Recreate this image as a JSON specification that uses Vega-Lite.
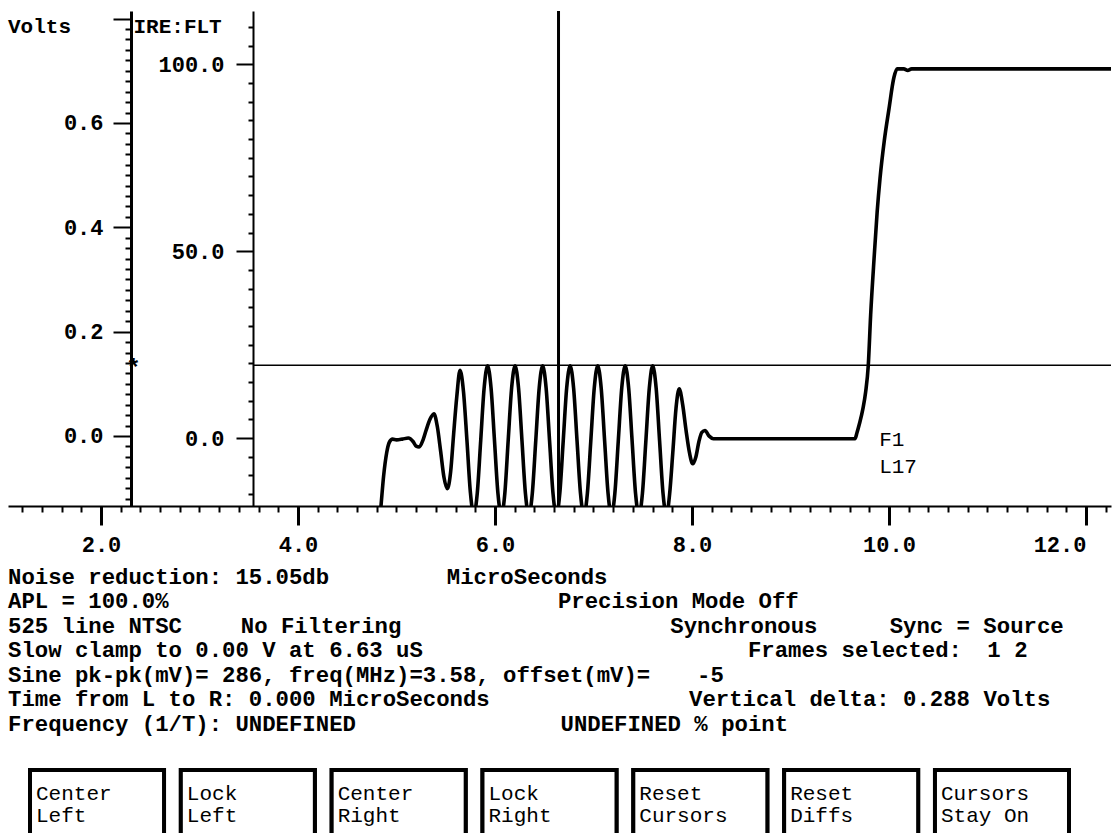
{
  "$schema": "https://vega.github.io/schema/vega-lite/v6.json",
  "background": "white",
  "padding": {"left": 8, "top": 9, "right": 0, "bottom": 0},
  "autosize": {"type": "pad"},
  "bounds": "flush",
  "spacing": 0,
  "config": {
    "view": {"stroke": null},
    "font": "Liberation Mono",
    "text": {"font": "Liberation Mono", "fontSize": 22, "color": "black"},
    "axis": {
      "labelFont": "Liberation Mono",
      "labelFontSize": 22,
      "labelColor": "black",
      "labelFontWeight": "bold",
      "tickColor": "black",
      "domainColor": "black",
      "grid": false,
      "title": null
    }
  },
  "datasets": {
    "wave": [
      {"us": 4.70, "ire": -40}, {"us": 4.76, "ire": -38}, {"us": 4.80, "ire": -30}, {"us": 4.84, "ire": -19},
      {"us": 4.87, "ire": -10}, {"us": 4.90, "ire": -4}, {"us": 4.93, "ire": -1}, {"us": 4.96, "ire": -0.3},
      {"us": 5.00, "ire": -0.5}, {"us": 5.06, "ire": -0.3}, {"us": 5.12, "ire": 0}, {"us": 5.17, "ire": -1},
      {"us": 5.20, "ire": -2.2}, {"us": 5.23, "ire": -2.4}, {"us": 5.27, "ire": -0.5}, {"us": 5.30, "ire": 2.0},
      {"us": 5.34, "ire": 5.0}, {"us": 5.38, "ire": 6.5}, {"us": 5.415, "ire": 3.0}, {"us": 5.448, "ire": -3.5},
      {"us": 5.482, "ire": -10.5}, {"us": 5.516, "ire": -13.6}, {"us": 5.55, "ire": -9}, {"us": 5.58, "ire": 1},
      {"us": 5.612, "ire": 11}, {"us": 5.645, "ire": 18.1}, {"us": 5.680, "ire": 12.5}, {"us": 5.715, "ire": -0.5},
      {"us": 5.750, "ire": -14.5}, {"us": 5.785, "ire": -20.5}, {"us": 5.820, "ire": -14.8}, {"us": 5.855, "ire": -0.7},
      {"us": 5.890, "ire": 13.4}, {"us": 5.925, "ire": 19.3}, {"us": 5.960, "ire": 13.4}, {"us": 5.995, "ire": -0.7},
      {"us": 6.030, "ire": -14.8}, {"us": 6.065, "ire": -20.7}, {"us": 6.100, "ire": -14.8}, {"us": 6.134, "ire": -0.7},
      {"us": 6.169, "ire": 13.4}, {"us": 6.204, "ire": 19.3}, {"us": 6.239, "ire": 13.4}, {"us": 6.274, "ire": -0.7},
      {"us": 6.309, "ire": -14.8}, {"us": 6.344, "ire": -20.7}, {"us": 6.379, "ire": -14.8}, {"us": 6.414, "ire": -0.7},
      {"us": 6.449, "ire": 13.4}, {"us": 6.484, "ire": 19.3}, {"us": 6.519, "ire": 13.4}, {"us": 6.554, "ire": -0.7},
      {"us": 6.589, "ire": -14.8}, {"us": 6.623, "ire": -20.7}, {"us": 6.658, "ire": -14.8}, {"us": 6.693, "ire": -0.7},
      {"us": 6.728, "ire": 13.4}, {"us": 6.763, "ire": 19.3}, {"us": 6.798, "ire": 13.4}, {"us": 6.833, "ire": -0.7},
      {"us": 6.868, "ire": -14.8}, {"us": 6.903, "ire": -20.7}, {"us": 6.938, "ire": -14.8}, {"us": 6.973, "ire": -0.7},
      {"us": 7.008, "ire": 13.4}, {"us": 7.043, "ire": 19.3}, {"us": 7.078, "ire": 13.4}, {"us": 7.113, "ire": -0.7},
      {"us": 7.148, "ire": -14.8}, {"us": 7.182, "ire": -20.7}, {"us": 7.217, "ire": -14.8}, {"us": 7.252, "ire": -0.7},
      {"us": 7.287, "ire": 13.4}, {"us": 7.322, "ire": 19.3}, {"us": 7.357, "ire": 13.4}, {"us": 7.392, "ire": -0.7},
      {"us": 7.427, "ire": -14.8}, {"us": 7.462, "ire": -20.7}, {"us": 7.497, "ire": -14.8}, {"us": 7.532, "ire": -0.7},
      {"us": 7.567, "ire": 13.4}, {"us": 7.601, "ire": 19.3}, {"us": 7.636, "ire": 13.4}, {"us": 7.671, "ire": -0.7},
      {"us": 7.706, "ire": -14.8}, {"us": 7.741, "ire": -20.7}, {"us": 7.773, "ire": -15}, {"us": 7.805, "ire": -4},
      {"us": 7.838, "ire": 8}, {"us": 7.870, "ire": 13.2}, {"us": 7.905, "ire": 9}, {"us": 7.940, "ire": 2},
      {"us": 7.975, "ire": -4}, {"us": 8.007, "ire": -6.9}, {"us": 8.040, "ire": -5}, {"us": 8.070, "ire": -1},
      {"us": 8.100, "ire": 1.5}, {"us": 8.132, "ire": 2.0}, {"us": 8.175, "ire": 0.5}, {"us": 8.217, "ire": -0.2},
      {"us": 8.6, "ire": -0.2}, {"us": 9.1, "ire": -0.2}, {"us": 9.655, "ire": -0.2}, {"us": 9.675, "ire": 1.4},
      {"us": 9.70, "ire": 3.8}, {"us": 9.735, "ire": 7.8}, {"us": 9.763, "ire": 12.3}, {"us": 9.790, "ire": 19.5},
      {"us": 9.814, "ire": 33}, {"us": 9.851, "ire": 49}, {"us": 9.88, "ire": 60.5}, {"us": 9.909, "ire": 69.5},
      {"us": 9.952, "ire": 79.5}, {"us": 10.0, "ire": 88.1}, {"us": 10.05, "ire": 96.5}, {"us": 10.084, "ire": 98.8},
      {"us": 10.15, "ire": 98.8}, {"us": 10.19, "ire": 98.4}, {"us": 10.23, "ire": 98.8}, {"us": 11.0, "ire": 98.8},
      {"us": 12.3, "ire": 98.8}
    ],
    "vcursor": [{"us": 6.645}],
    "hcursor": [{"us": 3.543, "us2": 12.254, "ire": 19.5}],
    "marks": [{"us": 9.9, "ire": -0.5, "label": "F1"}, {"us": 9.9, "ire": -7.8, "label": "L17"}],
    "star": [{"us": 2.33, "v": 0.14, "label": "*"}],
    "titles": [{"us": 1.056, "v": 0.784, "label": "Volts"}, {"us": 2.33, "v": 0.784, "label": "IRE:FLT"}],
    "status": [
      {"line": 1, "col": 0, "text": "Noise reduction: 15.05db"},
      {"line": 1, "col": 32.8, "text": "MicroSeconds"},
      {"line": 2, "col": 0, "text": "APL = 100.0%"},
      {"line": 2, "col": 41.1, "text": "Precision Mode Off"},
      {"line": 3, "col": 0, "text": "525 line NTSC"},
      {"line": 3, "col": 17.4, "text": "No Filtering"},
      {"line": 3, "col": 49.5, "text": "Synchronous"},
      {"line": 3, "col": 65.9, "text": "Sync = Source"},
      {"line": 4, "col": 0, "text": "Slow clamp to 0.00 V at 6.63 uS"},
      {"line": 4, "col": 55.3, "text": "Frames selected:"},
      {"line": 4, "col": 73.2, "text": "1 2"},
      {"line": 5, "col": 0, "text": "Sine pk-pk(mV)= 286, freq(MHz)=3.58, offset(mV)="},
      {"line": 5, "col": 51.5, "text": "-5"},
      {"line": 6, "col": 0, "text": "Time from L to R: 0.000 MicroSeconds"},
      {"line": 6, "col": 50.9, "text": "Vertical delta: 0.288 Volts"},
      {"line": 7, "col": 0, "text": "Frequency (1/T): UNDEFINED"},
      {"line": 7, "col": 41.3, "text": "UNDEFINED % point"}
    ],
    "buttons": [
      {"b": 1, "row": 1, "text": "Center"}, {"b": 1, "row": 2, "text": "Left"},
      {"b": 2, "row": 1, "text": "Lock"}, {"b": 2, "row": 2, "text": "Left"},
      {"b": 3, "row": 1, "text": "Center"}, {"b": 3, "row": 2, "text": "Right"},
      {"b": 4, "row": 1, "text": "Lock"}, {"b": 4, "row": 2, "text": "Right"},
      {"b": 5, "row": 1, "text": "Reset"}, {"b": 5, "row": 2, "text": "Cursors"},
      {"b": 6, "row": 1, "text": "Reset"}, {"b": 6, "row": 2, "text": "Diffs"},
      {"b": 7, "row": 1, "text": "Cursors"}, {"b": 7, "row": 2, "text": "Stay On"}
    ]
  },
  "vconcat": [
    {
      "width": 1103,
      "height": 495,
      "resolve": {"scale": {"y": "independent"}, "axis": {"x": "independent", "y": "independent"}},
      "layer": [
        {
          "data": {"name": "wave"},
          "mark": {"type": "line", "interpolate": "monotone", "strokeWidth": 3.6, "color": "black", "clip": true},
          "encoding": {
            "x": {"field": "us", "type": "quantitative", "scale": {"domain": [1.056, 12.254], "nice": false, "zero": false},
              "axis": {"orient": "bottom", "values": [2, 4, 6, 8, 10, 12], "format": ".1f", "tickSize": 19, "tickWidth": 3, "domainWidth": 2, "labelPadding": 9, "labelFlush": 30, "title": null}},
            "y": {"field": "ire", "type": "quantitative", "scale": {"domain": [-18.2, 114.3], "nice": false, "zero": false},
              "axis": {"orient": "left", "offset": -245, "values": [0, 50, 100], "format": ".1f", "tickSize": 17, "tickWidth": 2, "domainWidth": 2, "labelPadding": 12, "title": null}}
          }
        },
        {
          "data": {"name": "vcursor"},
          "mark": {"type": "rule", "strokeWidth": 3, "color": "black"},
          "encoding": {
            "x": {"field": "us", "type": "quantitative", "scale": {"domain": [1.056, 12.254], "nice": false, "zero": false},
              "axis": {"orient": "bottom", "values": [1.2,1.4,1.6,1.8,2,2.2,2.4,2.6,2.8,3,3.2,3.4,3.6,3.8,4,4.2,4.4,4.6,4.8,5,5.2,5.4,5.6,5.8,6,6.2,6.4,6.6,6.8,7,7.2,7.4,7.6,7.8,8,8.2,8.4,8.6,8.8,9,9.2,9.4,9.6,9.8,10,10.2,10.4,10.6,10.8,11,11.2,11.4,11.6,11.8,12,12.2], "tickSize": 6, "tickWidth": 2, "labels": false, "domain": false, "title": null}}
          }
        },
        {
          "data": {"name": "hcursor"},
          "mark": {"type": "rule", "strokeWidth": 1.5, "color": "black"},
          "encoding": {
            "x": {"field": "us", "type": "quantitative", "scale": {"domain": [1.056, 12.254], "nice": false, "zero": false}, "axis": null},
            "x2": {"field": "us2"},
            "y": {"field": "ire", "type": "quantitative", "scale": {"domain": [-18.2, 114.3], "nice": false, "zero": false},
              "axis": {"orient": "left", "offset": -245, "values": [-15,-10,-5,5,10,15,20,25,30,35,40,45,55,60,65,70,75,80,85,90,95,105,110], "tickSize": 5, "tickWidth": 2, "labels": false, "domain": false, "title": null}}
          }
        },
        {
          "data": {"name": "marks"},
          "mark": {"type": "text", "align": "left", "baseline": "middle", "fontSize": 21},
          "encoding": {
            "x": {"field": "us", "type": "quantitative", "scale": {"domain": [1.056, 12.254], "nice": false, "zero": false}, "axis": null},
            "y": {"field": "ire", "type": "quantitative", "scale": {"domain": [-18.2, 114.3], "nice": false, "zero": false}, "axis": null},
            "text": {"field": "label"}
          }
        },
        {
          "data": {"name": "star"},
          "mark": {"type": "text", "align": "center", "baseline": "middle", "fontSize": 24, "fontWeight": "bold", "dy": 6},
          "encoding": {
            "x": {"field": "us", "type": "quantitative", "scale": {"domain": [1.056, 12.254], "nice": false, "zero": false}, "axis": null},
            "y": {"field": "v", "type": "quantitative", "scale": {"domain": [-0.1342, 0.8146], "nice": false, "zero": false},
              "axis": {"orient": "left", "offset": -123, "values": [0, 0.2, 0.4, 0.6, 0.8], "labelExpr": "datum.value > 0.7 ? '' : format(datum.value, '.1f')", "tickSize": 18, "tickWidth": 2, "domainWidth": 3, "labelPadding": 10, "title": null}},
            "text": {"field": "label"}
          }
        },
        {
          "data": {"name": "titles"},
          "mark": {"type": "text", "align": "left", "baseline": "middle", "fontSize": 21, "fontWeight": "bold"},
          "encoding": {
            "x": {"field": "us", "type": "quantitative", "scale": {"domain": [1.056, 12.254], "nice": false, "zero": false}, "axis": null},
            "y": {"field": "v", "type": "quantitative", "scale": {"domain": [-0.1342, 0.8146], "nice": false, "zero": false},
              "axis": {"orient": "left", "offset": -123, "values": [-0.12,-0.1,-0.08,-0.06,-0.04,-0.02,0.02,0.04,0.06,0.08,0.1,0.12,0.14,0.16,0.18,0.22,0.24,0.26,0.28,0.3,0.32,0.34,0.36,0.38,0.42,0.44,0.46,0.48,0.5,0.52,0.54,0.56,0.58,0.62,0.64,0.66,0.68,0.7,0.72,0.74,0.76,0.78], "tickSize": 6, "tickWidth": 2, "labels": false, "domain": false, "title": null}},
            "text": {"field": "label"}
          }
        }
      ]
    },
    {
      "width": 1103,
      "height": 262,
      "data": {"name": "status"},
      "mark": {"type": "text", "align": "left", "baseline": "middle", "fontSize": 22.3, "fontWeight": "bold"},
      "encoding": {
        "x": {"field": "col", "type": "quantitative", "scale": {"domain": [0, 82.44], "nice": false, "zero": false}, "axis": null},
        "y": {"field": "line", "type": "quantitative", "scale": {"domain": [-1.898, 8.796], "nice": false, "zero": false, "reverse": true}, "axis": null},
        "text": {"field": "text"}
      }
    },
    {
      "width": 1083,
      "height": 67,
      "data": {"name": "buttons"},
      "layer": [
        {
          "mark": {"type": "bar", "fill": "white", "stroke": "black", "strokeWidth": 4, "clip": true},
          "encoding": {
            "x": {"field": "b", "type": "ordinal", "scale": {"paddingInner": 0.1114, "paddingOuter": 0.1459}, "axis": null},
            "y": {"datum": -0.09, "type": "quantitative", "scale": {"domain": [-0.182, 2.864], "nice": false, "zero": false, "reverse": true}, "axis": null},
            "y2": {"datum": 3.3}
          }
        },
        {
          "mark": {"type": "text", "align": "left", "baseline": "middle", "fontSize": 21, "dx": 6},
          "encoding": {
            "x": {"field": "b", "type": "ordinal", "bandPosition": 0, "axis": null},
            "y": {"field": "row", "type": "quantitative", "axis": null},
            "text": {"field": "text"}
          }
        }
      ]
    }
  ]
}
